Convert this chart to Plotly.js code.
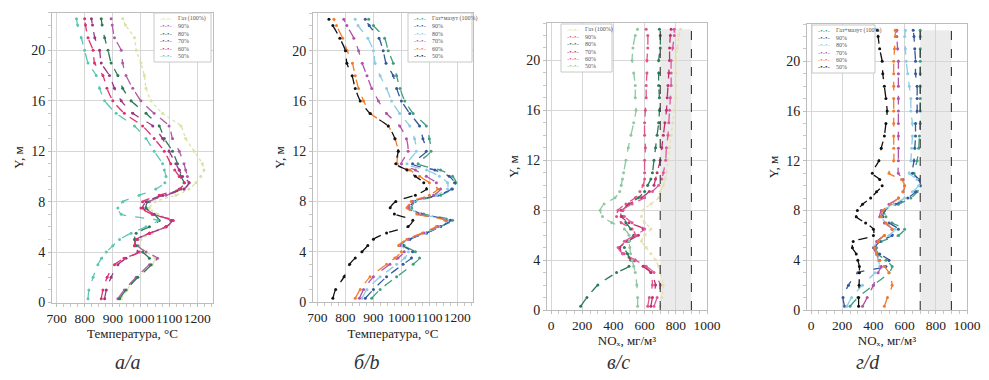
<!DOCTYPE html>
<html><head><meta charset="utf-8">
<script src="https://cdn.plot.ly/plotly-3.0.1.min.js"></script>
<style>html,body{margin:0;padding:0;background:#fff}#chart{width:989px;height:380px}</style>
</head><body><div id="chart"></div>
<script>
// ---- shared vertical levels (m) ----
const levels = [0.3,1,2,3,3.5,4,4.5,5,5.5,6,6.5,7,7.5,8,8.5,9,9.5,10,10.5,11,12,13,14,15,16,17,18,19,20,21,22,22.5];

// ---- panel a: temperature, °C ----
const namesA = ['Газ (100%)','90%','80%','70%','60%','50%'];
const tempA_gas = [930,950,985,1040,1050,1020,995,1000,1040,1090,1110,1060,1030,1050,1124,1171,1195,1212,1224,1218,1189,1159,1142,1077,1036,1018,1012,1000,983,977,945,935];
const tempA_90  = [918,941,983,1030,1059,1018,989,989,1030,1089,1106,1047,1018,1030,1089,1153,1171,1165,1159,1153,1136,1112,1100,1047,1000,971,947,935,930,906,898,894];
const tempA_80  = [924,947,989,1036,1030,1006,983,977,983,1030,1065,1047,1018,1024,1077,1142,1153,1142,1136,1130,1112,1083,1065,1018,965,935,918,894,883,871,862,859];
const tempA_70  = [871,877,894,918,947,989,977,983,1030,1089,1110,1042,1006,1018,1077,1153,1171,1148,1136,1124,1100,1077,1042,971,930,906,888,859,853,836,828,824];
const tempA_60  = [859,865,880,906,940,994,977,983,1030,1089,1115,1040,1000,1006,1065,1136,1155,1136,1120,1106,1083,1047,1006,941,900,879,865,835,830,812,803,800];
const tempA_50  = [812,815,830,847,860,877,900,924,965,1018,1060,930,918,936,994,1053,1085,1089,1083,1077,1047,1018,977,912,871,853,841,812,800,788,775,771];

// ---- panel b: temperature, °C ----
const namesB = ['Газ+мазут (100%)','90%','80%','70%','60%','50%'];
const tempB_100 = [894,924,983,1042,1065,1050,1010,1030,1090,1140,1183,1080,1036,1050,1140,1183,1195,1183,1140,1060,1106,1100,1089,1042,1012,995,983,971,953,940,900,883];
const tempB_90  = [871,900,947,1006,1036,1040,1005,1030,1090,1140,1175,1070,1030,1045,1130,1180,1190,1171,1120,1040,1089,1077,1065,1030,1000,983,971,945,935,920,885,871];
const tempB_80  = [859,877,924,983,1012,1025,1000,1025,1085,1135,1165,1065,1030,1045,1125,1165,1165,1136,1090,1020,1053,1047,1030,994,965,947,924,906,900,880,845,835];
const tempB_70  = [850,865,900,959,988,1010,995,1025,1080,1130,1160,1060,1025,1040,1115,1140,1125,1089,1050,1000,1024,1018,994,947,918,894,877,860,847,830,805,794];
const tempB_60  = [835,853,888,947,977,1000,990,1020,1075,1125,1155,1055,1020,1035,1100,1130,1100,1065,1030,985,989,977,953,890,865,847,835,825,806,790,768,759];
const tempB_50  = [755,765,795,815,835,859,880,900,947,1024,1041,975,960,980,1050,1090,1080,1050,1020,980,989,977,953,888,853,835,824,805,800,780,755,741];

// ---- panel c: NOx, mg/m3 ----
const namesC = ['Газ (100%)','90%','80%','70%','60%','50%'];
const noxC_gas = [700,710,720,700,690,670,640,610,580,600,640,600,580,590,640,690,700,720,730,740,750,760,770,780,790,800,800,800,800,810,820,830];
const noxC_90  = [620,630,650,640,600,540,470,440,480,540,520,450,420,430,480,540,570,590,600,600,600,605,600,600,605,610,610,615,615,620,620,610];
const noxC_80  = [190,230,300,420,500,510,490,470,500,530,510,480,460,460,500,560,600,620,640,650,660,670,680,690,695,695,690,690,690,700,700,695];
const noxC_70  = [640,650,670,640,590,520,460,440,490,560,590,500,450,450,500,580,630,660,670,680,700,710,720,730,740,745,750,755,760,760,765,770];
const noxC_60  = [660,680,700,660,610,540,460,430,470,540,600,520,470,460,520,600,650,690,710,720,735,740,750,755,760,765,770,770,770,780,790,790];
const noxC_50  = [555,555,550,540,530,520,510,505,500,500,470,390,330,315,340,410,440,450,458,465,480,495,512,530,545,540,540,530,520,525,540,554];

// ---- panel d: NOx, mg/m3 ----
const namesD = ['Газ+мазут (100%)','90%','80%','70%','60%','50%'];
const noxD_100 = [250,300,400,500,520,480,430,420,450,560,600,520,480,470,560,640,680,700,690,660,680,690,695,700,700,700,700,700,700,700,700,700];
const noxD_90  = [215,205,240,300,480,500,440,410,440,520,560,500,460,470,540,620,670,700,690,650,660,665,670,670,680,680,680,670,670,665,660,655];
const noxD_80  = [230,260,330,410,440,430,420,400,430,500,540,480,450,460,530,600,650,690,680,630,640,645,650,650,640,640,630,620,610,605,600,605];
const noxD_70  = [330,360,400,430,450,440,420,400,420,470,520,470,440,450,500,560,590,600,590,560,560,560,560,560,560,560,560,560,560,555,550,550];
const noxD_60  = [470,490,520,500,470,440,420,410,430,470,520,480,450,460,510,560,590,600,580,500,530,530,530,530,530,530,530,530,530,535,540,540];
const noxD_50  = [305,305,308,310,310,300,290,265,270,400,400,350,290,297,330,382,420,456,440,393,435,450,470,480,488,480,470,460,456,440,430,425];

// ---- styling ----
const colA = ['#d7e3a0','#b05aa6','#2c7a58','#9c3588','#e0306e','#5cc6b4'];
const colB = ['#3f9f7c','#33589f','#8ccbe3','#b452aa','#f27b2a','#111111'];
const colC = ['#e6dfae','#e05486','#2c7a58','#c0306a','#de58a0','#8fc7a0'];
const colD = colB;

const serif = 'Liberation Serif, Times New Roman, serif';

function mk(x, name, color, xa, ya, lineOnly) {
  return {
    type: 'scatter', mode: 'lines+markers', x: x, y: levels, name: name,
    xaxis: xa, yaxis: ya, showlegend: false,
    line: {color: color, width: 1.3, dash: lineOnly ? 'dot' : 'dash', shape: 'spline', smoothing: 0.6},
    marker: {color: color, size: 3}
  };
}

const seriesA = [tempA_gas,tempA_90,tempA_80,tempA_70,tempA_60,tempA_50];
const seriesB = [tempB_100,tempB_90,tempB_80,tempB_70,tempB_60,tempB_50];
const seriesC = [noxC_gas,noxC_90,noxC_80,noxC_70,noxC_60,noxC_50];
const seriesD = [noxD_100,noxD_90,noxD_80,noxD_70,noxD_60,noxD_50];

const traces = [];
seriesA.forEach((s,i)=>traces.push(mk(s,namesA[i],colA[i],'x','y',i===0)));
seriesB.forEach((s,i)=>traces.push(mk(s,namesB[i],colB[i],'x2','y2',false)));
seriesC.forEach((s,i)=>traces.push(mk(s,namesC[i],colC[i],'x3','y3',i===0)));
seriesD.forEach((s,i)=>traces.push(mk(s,namesD[i],colD[i],'x4','y4',false)));

const W = 989, H = 380;
function dx(a,b){return [a/W, b/W];}
function dy(top,bot){return [1-bot/H, 1-top/H];}

function xax(domain, range, dtick, minor, title, anchor, standoff) {
  return {
    domain: domain, range: range, anchor: anchor, dtick: dtick, tick0: 0,
    showgrid: true, gridcolor: '#d6d6d6', gridwidth: 1, zeroline: false,
    showline: true, linecolor: '#bdbdbd', linewidth: 1, mirror: true,
    ticks: 'outside', ticklen: 3, tickcolor: '#bdbdbd', tickangle: 0,
    minor: {dtick: minor, ticks: 'outside', ticklen: 3, tickcolor: '#c8c8c8', showgrid: false},
    tickfont: {family: serif, size: 13.5, color: '#222'},
    title: {text: title, font: {family: serif, size: 13, color: '#222'}, standoff: standoff}
  };
}
function yax(domain, anchor) {
  return {
    domain: domain, range: [0, 23], anchor: anchor, dtick: 4, tick0: 0,
    showgrid: true, gridcolor: '#d6d6d6', gridwidth: 1, zeroline: false,
    showline: true, linecolor: '#bdbdbd', linewidth: 1, mirror: true,
    ticks: 'outside', ticklen: 3, tickcolor: '#bdbdbd',
    minor: {dtick: 1, ticks: 'outside', ticklen: 3, tickcolor: '#c8c8c8', showgrid: false},
    tickfont: {family: serif, size: 14, color: '#222'},
    title: {text: 'Y, м', font: {family: serif, size: 13, color: '#222'}, standoff: 4}
  };
}

const limits = [700, 900];
const shapes = [];
[['x3','y3'],['x4','y4']].forEach(([xr,yr])=>{
  shapes.push({type:'rect', xref:xr, yref:yr, x0:limits[0], x1:limits[1], y0:0, y1:22.5,
               fillcolor:'#ebebeb', line:{width:0}, layer:'below'});
  limits.forEach(v=>shapes.push({type:'line', xref:xr, yref:yr, x0:v, x1:v, y0:0, y1:22.5,
               line:{color:'#333', width:1.1, dash:'dash'}, layer:'above'}));
});

const annotations = [];
// in-plot legend boxes (px box: left, top, right, bottom)
function addLegend(names, cols, box) {
  const [l,t,r,b] = box;
  shapes.push({type:'rect', xref:'paper', yref:'paper', x0:l/W, x1:r/W, y0:1-b/H, y1:1-t/H,
               fillcolor:'#fff', line:{color:'#c8c8c8', width:1}, layer:'above'});
  const step = (b - t - 4) / names.length;
  names.forEach((n,i)=>{
    const yc = 1 - (t + 2 + step*(i+0.5))/H;
    annotations.push({text:'-•-•-', xref:'paper', yref:'paper', x:(l+4)/W, y:yc,
      xanchor:'left', yanchor:'middle', showarrow:false,
      font:{family: serif, size: 7, color: cols[i]}});
    annotations.push({text:n, xref:'paper', yref:'paper', x:(l+22)/W, y:yc,
      xanchor:'left', yanchor:'middle', showarrow:false,
      font:{family: serif, size: 6, color:'#555'}});
  });
}
addLegend(namesA, colA, [154,13,211,62]);
addLegend(namesB, colB, [408,13,472,62]);
addLegend(namesC, colC, [561,24,612,72]);
addLegend(namesD, colD, [812,25,875,73]);

[['а/a',128],['б/b',367],['в/c',618],['г/d',868]].forEach(([t,x])=>{
  annotations.push({text:t, xref:'paper', yref:'paper', x:x/W, y:1-362/H,
    xanchor:'center', yanchor:'middle', showarrow:false,
    font:{family: serif, size: 20, color:'#333', style:'italic'}});
});

const noxTitle = 'NOₓ, мг/м³';
const layout = {
  width: W, height: H, margin: {l:0, r:0, t:0, b:0},
  paper_bgcolor: '#fff', plot_bgcolor: '#fff', showlegend: false,
  xaxis:  xax(dx(52,213),  [684,1256], 100, 25, 'Температура, °C', 'y', 4),
  yaxis:  yax(dy(12.5,302.5), 'x'),
  xaxis2: xax(dx(313,473), [684,1256], 100, 25, 'Температура, °C', 'y2', 4),
  yaxis2: yax(dy(13,302), 'x2'),
  xaxis3: xax(dx(547,707), [-26,1000], 200, 50, noxTitle, 'y3', 2),
  yaxis3: yax(dy(23,310), 'x3'),
  xaxis4: xax(dx(807,967), [-26,1000], 200, 50, noxTitle, 'y4', 2),
  yaxis4: yax(dy(24,310), 'x4'),
  shapes: shapes,
  annotations: annotations
};

Plotly.newPlot('chart', traces, layout, {staticPlot: true, displayModeBar: false});
</script></body></html>
